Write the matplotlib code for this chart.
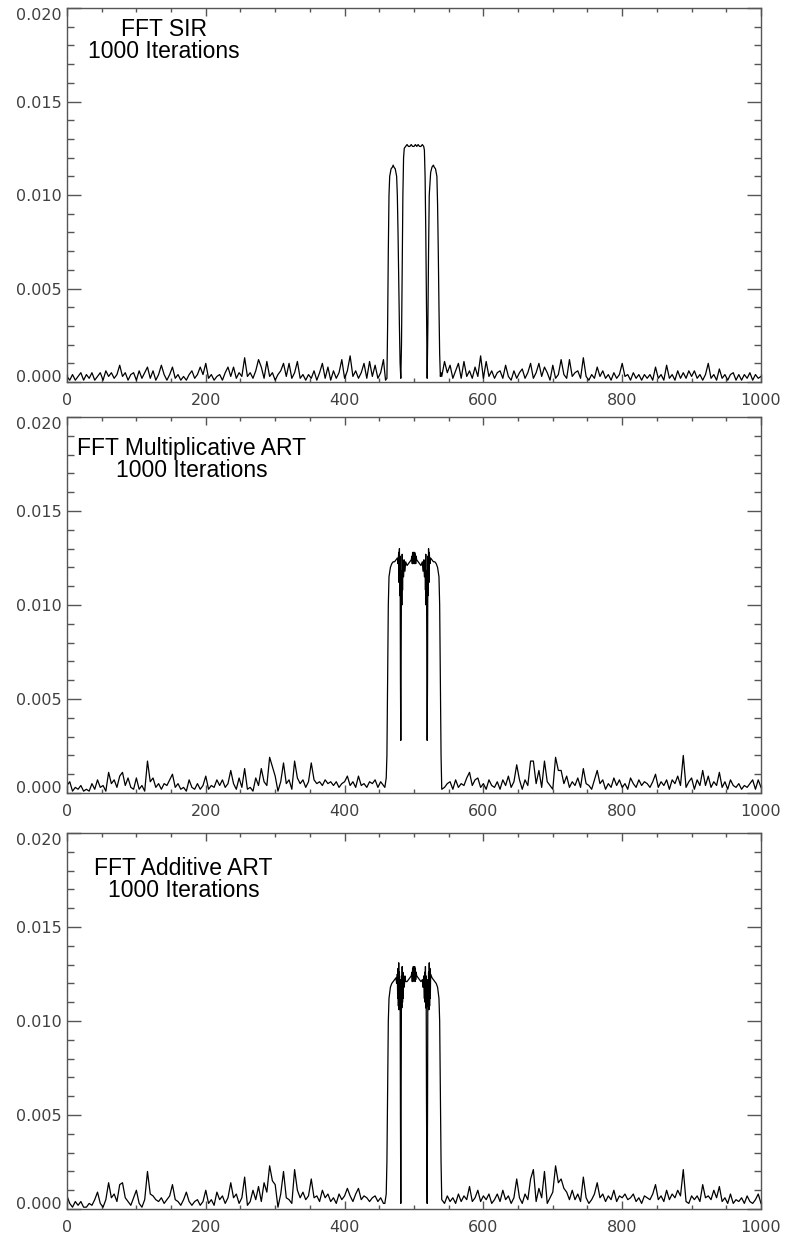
import numpy as np
import matplotlib
matplotlib.use("Agg")
import matplotlib.pyplot as plt
from matplotlib.ticker import MultipleLocator

# background noise, units of 1e-4, sampled every 4 along x
# left side starts at x=0, right side starts at x=540
sir_left = [3, 1, 4, 1, 3, 5, 1, 4, 2, 5, 1, 3, 5, 1, 6, 3, 5, 2, 4, 9,
            3, 5, 1, 4, 5, 1, 6, 2, 5, 8, 2, 6, 1, 4, 9, 4, 1, 4, 8, 2,
            4, 1, 3, 1, 4, 6, 2, 4, 8, 4, 10, 2, 4, 1, 3, 4, 1, 5, 8, 3,
            8, 2, 5, 3, 13, 3, 5, 2, 6, 12, 8, 2, 11, 3, 5, 1, 4, 6, 10, 3,
            10, 2, 5, 11, 2, 4, 1, 4, 2, 6, 1, 5, 10, 2, 8, 1, 6, 2, 5, 12,
            2, 6, 14, 3, 6, 2, 5, 10, 2, 11, 3, 9, 2, 5, 12]
sir_right = [3, 11, 5, 9, 2, 6, 10, 2, 11, 3, 6, 2, 8, 3, 14, 2, 11, 3, 6, 2,
             5, 6, 2, 9, 3, 1, 6, 2, 5, 7, 2, 5, 10, 2, 5, 10, 3, 8, 5, 1,
             9, 2, 4, 12, 4, 2, 12, 3, 5, 6, 2, 13, 3, 1, 4, 2, 8, 3, 6, 2,
             4, 1, 5, 2, 4, 10, 3, 4, 1, 5, 2, 4, 1, 4, 2, 4, 1, 8, 2, 4,
             1, 9, 2, 4, 1, 6, 2, 5, 2, 6, 3, 6, 2, 4, 1, 4, 10, 2, 4, 1,
             7, 2, 4, 1, 4, 5, 1, 4, 1, 4, 2, 5, 1, 4, 2, 3]

mart_left = [4, 6, 1, 3, 2, 4, 1, 2, 1, 5, 2, 7, 3, 4, 1, 11, 5, 7, 3, 9,
             11, 4, 8, 3, 2, 8, 2, 4, 1, 17, 6, 8, 3, 5, 2, 5, 4, 7, 10, 3,
             5, 2, 3, 1, 7, 3, 2, 5, 2, 4, 9, 2, 4, 3, 7, 4, 7, 3, 5, 12,
             5, 2, 8, 3, 13, 2, 3, 1, 8, 4, 13, 6, 4, 19, 14, 9, 1, 6, 16, 5,
             7, 2, 17, 8, 5, 7, 3, 6, 16, 7, 5, 6, 4, 7, 5, 6, 4, 6, 3, 5,
             6, 9, 4, 6, 3, 9, 4, 5, 3, 6, 5, 7, 3, 6, 4]
mart_right = [2, 3, 5, 6, 2, 7, 3, 5, 4, 8, 11, 4, 7, 8, 3, 5, 2, 7, 4, 3,
              6, 2, 7, 4, 9, 3, 6, 15, 7, 2, 7, 4, 17, 17, 5, 12, 3, 17, 6, 4,
              2, 19, 12, 12, 5, 9, 3, 6, 4, 8, 3, 13, 5, 4, 2, 7, 12, 5, 7, 2,
              5, 3, 8, 4, 7, 3, 5, 2, 8, 5, 3, 7, 4, 6, 5, 3, 6, 10, 3, 6,
              4, 7, 2, 7, 5, 9, 4, 20, 3, 6, 8, 2, 7, 4, 12, 4, 9, 3, 6, 4,
              11, 3, 6, 2, 7, 4, 3, 5, 2, 4, 3, 5, 7, 2, 7, 3]

aart_left = [7, 3, 1, 4, 2, 4, 1, 1, 3, 2, 5, 9, 3, 1, 5, 14, 6, 8, 4, 13,
             14, 6, 4, 2, 6, 10, 3, 1, 5, 20, 8, 7, 5, 4, 6, 3, 5, 7, 13, 5,
             4, 2, 5, 9, 4, 2, 4, 5, 2, 4, 10, 3, 5, 2, 9, 5, 7, 3, 6, 14,
             6, 8, 3, 6, 17, 2, 4, 10, 5, 12, 4, 14, 9, 23, 15, 13, 1, 8, 20, 6,
             5, 3, 21, 10, 6, 9, 5, 7, 16, 6, 7, 4, 10, 6, 8, 4, 6, 3, 8, 5,
             7, 11, 7, 4, 8, 11, 5, 7, 6, 4, 6, 7, 4, 6, 3]
aart_right = [5, 3, 7, 4, 6, 3, 8, 4, 7, 5, 12, 4, 6, 10, 4, 7, 5, 8, 3, 5,
              8, 4, 10, 5, 7, 3, 6, 16, 6, 3, 8, 5, 16, 21, 4, 11, 6, 20, 3, 6,
              9, 23, 14, 16, 11, 9, 5, 10, 5, 8, 4, 17, 6, 3, 5, 8, 14, 6, 8, 4,
              7, 5, 10, 4, 7, 6, 8, 5, 6, 8, 4, 6, 3, 7, 6, 5, 8, 13, 5, 7,
              4, 10, 5, 8, 6, 10, 7, 21, 4, 3, 7, 5, 7, 4, 13, 6, 7, 5, 10, 6,
              12, 4, 6, 3, 8, 3, 5, 4, 6, 3, 7, 4, 3, 5, 8, 3]

# central block (x, value in 1e-4)
sir_cx = [459, 461, 462, 463, 464, 465, 467, 469, 470, 471,
          473, 475, 476, 477, 478, 479, 480, 481, 482, 483,
          484, 485, 486, 488, 490, 492, 494, 496, 498, 500,
          502, 504, 506, 508, 510, 512, 514, 515, 516, 517,
          518, 519, 520, 521, 522, 524, 526, 528, 529, 531,
          533, 534, 535, 536, 537, 538, 539]
sir_cy = [1, 2, 30, 70, 100, 110, 114, 115, 116, 115,
          114, 110, 100, 80, 55, 30, 10, 2, 20, 60,
          100, 120, 125, 126, 127, 126, 126, 127, 126, 126,
          127, 126, 127, 126, 126, 127, 126, 124, 110, 80,
          40, 2, 30, 70, 100, 112, 115, 116, 115, 114,
          110, 95, 70, 40, 15, 3, 5]

mart_cx = [458, 460, 461, 462, 463, 464, 466, 468, 470, 472,
           474, 476, 477, 478, 478.5, 479, 479.5, 480, 480.5, 481,
           481.5, 482, 482.5, 483, 483.5, 484, 485, 486, 487, 488,
           490, 492, 494, 496, 497, 497.5, 498, 498.5, 499, 499.5,
           500, 500.5, 501, 501.5, 502, 502.5, 503, 504, 506, 508,
           510, 512, 513, 514, 515, 516, 516.5, 517, 517.5, 518,
           518.5, 519, 519.5, 520, 520.5, 521, 521.5, 522, 523, 524,
           526, 528, 530, 532, 534, 536, 537, 538, 539]
mart_cy = [3, 8, 20, 60, 100, 115, 120, 122, 123, 123,
           124, 125, 122, 128, 112, 130, 105, 126, 60, 28,
           70, 118, 100, 127, 108, 124, 115, 124, 118, 123,
           121, 122, 123, 124, 126, 122, 128, 122, 128, 123,
           128, 122, 128, 123, 127, 122, 126, 124, 123, 122,
           121, 123, 118, 124, 115, 124, 108, 127, 100, 118,
           70, 28, 60, 126, 105, 130, 112, 128, 122, 125,
           124, 123, 123, 122, 120, 115, 100, 60, 20]

aart_cx = [458, 460, 461, 462, 463, 464, 466, 468, 470, 472,
           474, 475, 476, 476.5, 477, 477.5, 478, 478.5, 479, 479.5,
           480, 480.5, 481, 481.5, 482, 482.5, 483, 483.5, 484, 484.5,
           485, 486, 487, 488, 490, 492, 494, 496, 497, 497.5,
           498, 498.5, 499, 499.5, 500, 500.5, 501, 501.5, 502, 502.5,
           503, 504, 506, 508, 510, 512, 513, 514, 515, 515.5,
           516, 516.5, 517, 517.5, 518, 518.5, 519, 519.5, 520, 520.5,
           521, 521.5, 522, 522.5, 523, 523.5, 524, 526, 528, 530,
           532, 534, 536, 537, 538, 539]
aart_cy = [3, 8, 25, 60, 100, 112, 118, 120, 121, 122,
           123, 120, 125, 112, 128, 108, 131, 106, 126, 108,
           122, 50, 3, 60, 124, 107, 129, 110, 126, 112,
           124, 118, 124, 121, 121, 122, 123, 124, 126, 121,
           128, 121, 129, 122, 129, 122, 129, 121, 128, 122,
           126, 124, 123, 122, 121, 122, 118, 124, 112, 126,
           110, 129, 107, 124, 60, 20, 3, 50, 122, 108,
           126, 106, 131, 108, 128, 112, 125, 123, 122, 121,
           120, 118, 112, 100, 60, 25]

titles = ["FFT SIR", "FFT Multiplicative ART", "FFT Additive ART"]
subtitle = "1000 Iterations"
x_ticks = [0, 200, 400, 600, 800, 1000]
y_ticks = [0.000, 0.005, 0.010, 0.015, 0.020]


def build(left, cx, cy, right):
    xl = 4 * np.arange(len(left))
    xr = 540 + 4 * np.arange(len(right))
    x = np.concatenate([xl, cx, xr])
    y = np.concatenate([left, cy, right]) * 1e-4
    return x, y


series = [build(sir_left, sir_cx, sir_cy, sir_right),
          build(mart_left, mart_cx, mart_cy, mart_right),
          build(aart_left, aart_cx, aart_cy, aart_right)]

# axes boxes in figure fractions, label block centres in data coords
boxes = [[0.0852, 0.6909, 0.883, 0.3026],
         [0.0852, 0.3584, 0.883, 0.3042],
         [0.0852, 0.0218, 0.883, 0.3042]]
label_pos = [(140, 0.01825), (180, 0.01772), (168, 0.01755)]

fig = plt.figure(figsize=(7.86, 12.36), dpi=100)
frame = "#555555"
for i, (x, y) in enumerate(series):
    ax = fig.add_axes(boxes[i])
    ax.plot(x, y, color="black", lw=0.9)
    ax.set_xlim(0, 1000)
    ax.set_ylim(0, 0.020)
    ax.set_xticks(x_ticks)
    ax.set_yticks(y_ticks)
    ax.set_yticklabels([f"{v:.3f}" for v in y_ticks])
    ax.xaxis.set_minor_locator(MultipleLocator(50))
    ax.yaxis.set_minor_locator(MultipleLocator(0.001))
    ax.tick_params(which="both", direction="in", top=True, right=True,
                   color=frame, width=1.0, labelcolor="#404040",
                   labelsize=11.5)
    ax.tick_params(axis="x", which="major", length=6, pad=8)
    ax.tick_params(axis="x", which="minor", length=3)
    ax.tick_params(axis="y", which="major", length=10, pad=4)
    ax.tick_params(axis="y", which="minor", length=5)
    for sp in ax.spines.values():
        sp.set_color(frame)
        sp.set_linewidth(1.0)
    ylabs = ax.get_yticklabels()
    ylabs[0].set_va("baseline")
    ylabs[-1].set_va("top")
    ax.text(label_pos[i][0], label_pos[i][1], titles[i] + "\n" + subtitle,
            family="Liberation Sans", fontsize=16.5, ha="center",
            va="center", multialignment="center", linespacing=0.95)

fig.savefig("out.png", dpi=100)
